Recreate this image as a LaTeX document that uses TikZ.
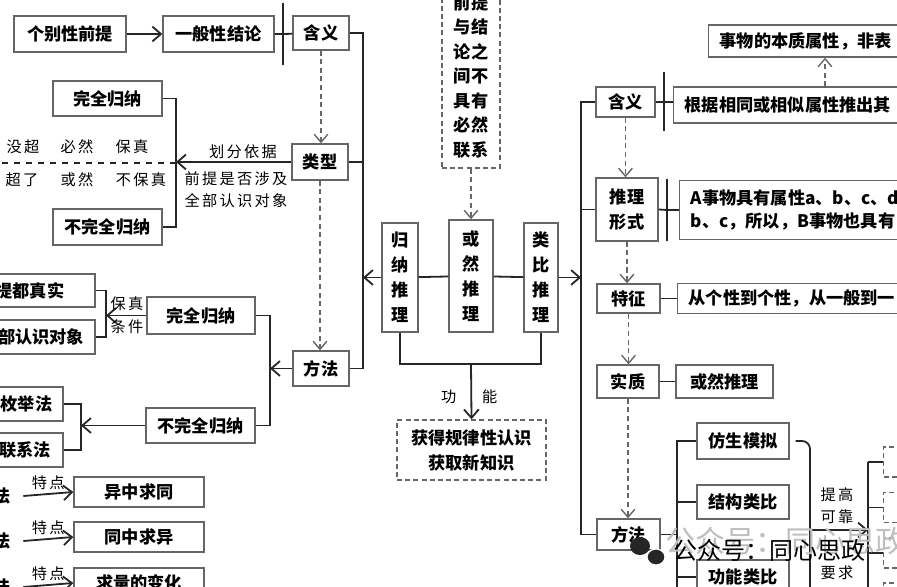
\documentclass[tikz,border=0pt]{standalone}
\usepackage{fontspec}
\setmainfont{Noto Sans CJK SC}
\newfontfamily\markfont{Noto Sans CJK SC}[LetterSpace=15]
\usetikzlibrary{arrows.meta,positioning,calc}
\tikzset{
  link/.style={line width=0.9pt, draw=black!85},
  flowarrow/.style={link, -{Straight Barb[length=1.5mm,width=2.6mm]}},
  dasharrow/.style={line width=0.7pt, draw=black!60, dash pattern=on 2.5pt off 1.8pt,
    -{Straight Barb[length=1.4mm,width=2.4mm]}},
  box/.style={draw=black!60, line width=0.7pt, fill=white, inner sep=0pt, align=center,
    font=\bfseries\fontsize{8.6}{12.5}\selectfont},
  dbox/.style={box, dash pattern=on 2.5pt off 1.6pt},
  lbox/.style={box, anchor=west, align=left, inner xsep=5.5pt, text width=150pt},
  sz/.style 2 args={minimum width=#1*0.5pt, minimum height=#2*0.5pt},
  ht/.style={minimum height=#1*0.5pt},
  note/.style={font=\markfont\fontsize{7.6}{11}\selectfont, text=black, inner sep=0pt}
}
\begin{document}
\begin{tikzpicture}[x=0.5pt,y=-0.5pt]
\useasboundingbox (0,0) rectangle (897,587);
\fill[white] (0,0) rectangle (897,587);
\begin{scope}
\clip (0,0) rectangle (897,587);

% ---- left: inductive reasoning ----
\node[box, sz={112}{36}] (gbqt) at (70,34) {个别性前提};
\node[box, sz={111}{36}] (ybjl) at (218.5,34) {一般性结论};
\node[box, sz={56}{34}] (hyL) at (321,33) {含义};
\node[box, sz={56}{36}] (lxL) at (320,162) {类型};
\node[box, sz={56}{35}] (ffL) at (321,368.5) {方法};
\coordinate (barL) at (283,34);
\coordinate (spL) at (363,0);
\draw[link] (barL) ++(0,-31) -- ++(0,62);
\draw[flowarrow] (gbqt) -- (ybjl);
\draw[link] (ybjl) -- (barL) -- (hyL);
\draw[link] (hyL.east) -- (hyL.east -| spL) -- (ffL.east -| spL) -- (ffL.east);
\draw[link] (lxL.east) -- (lxL.east -| spL);
\draw[dasharrow] (hyL.south) -- (hyL.south |- lxL.north);
\draw[dasharrow] (lxL.south) -- (lxL.south |- ffL.north);

\node[box, sz={109}{35}] (wq1) at (107.5,98.5) {完全归纳};
\node[box, sz={109}{36}] (bwq1) at (107.5,227) {不完全归纳};
\coordinate (brA) at (176,163);
\coordinate (dl) at (0,163);
\draw[link] (wq1.east) -- (wq1.east -| brA) -- (bwq1.east -| brA) -- (bwq1.east);
\draw[flowarrow] (lxL.west) -- (lxL.west -| brA);
\draw[link, dashed] (brA) -- (dl);
\node[note] (hf) at (243,152) {划分依据};
\node[note, align=left] (qt) at (236,190) {前提是否涉及\\全部认识对象};
\node[note] (r1a) at (23,147) {没超};
\node[note] (r1b) at (77,147) {必然};
\node[note] (r1c) at (132,147) {保真};
\node[note] (r2a) at (22,180) {超了};
\node[note] (r2b) at (77,180) {或然};
\node[note] (r2c) at (141,180) {不保真};

\node[box, sz={108}{37}] (wq2) at (201,315.5) {完全归纳};
\node[box, sz={109}{35}] (bwq2) at (200.5,425.5) {不完全归纳};
\node[box, sz={130}{33}] (dzs) at (30,290.5) {提都真实};
\node[box, sz={108}{34}] (rsdx) at (41,337) {部认识对象};
\coordinate (brB) at (106,315);
\coordinate (brC) at (270,0);
\draw[link] (dzs.east) -- (dzs.east -| brB) -- (rsdx.east -| brB) -- (rsdx.east);
\draw[flowarrow] (wq2.west) -- (wq2.west -| brB);
\node[note] (bz1) at (127,304) {保真};
\node[note] (bz2) at (127,327) {条件};
\draw[link] (wq2.east) -- (wq2.east -| brC) -- (bwq2.east -| brC) -- (bwq2.east);
\draw[flowarrow] (ffL.west) -- (ffL.west -| brC);

\node[box, sz={73}{34}] (mjf) at (26.5,404) {枚举法};
\node[box, sz={76}{34}] (lxf) at (25,450) {联系法};
\coordinate (brD) at (81,0);
\draw[link] (mjf.east) -- (mjf.east -| brD) -- (lxf.east -| brD) -- (lxf.east);
\draw[flowarrow] (bwq2.west) -- (bwq2.west -| brD);

\foreach \n/\y/\t in {1/492/异中求同, 2/537/同中求异, 3/583/求量的变化} {
  \node[box, sz={130}{30}] (td\n) at (139,\y) {\t};
  \node[box, draw=none, fill=none] (fa\n) at (2,\y+4) {法};
  \draw[link, -{Straight Barb[length=1.5mm,width=2.6mm]}] ([xshift=6pt]fa\n.east) -- node[note, above=1.5pt] {特点} (td\n.west);
}

% ---- centre ----
\node[dbox, sz={58}{183}, font=\bfseries\fontsize{8.6}{12.25}\selectfont] (ztbj) at (471,76.5) {前提\\与结\\论之\\间不\\具有\\必然\\联系};
\node[box, sz={36}{109}] (gntl) at (400,277.5) {归\\纳\\推\\理};
\node[box, sz={44}{112}] (hrtl) at (471,276) {或\\然\\推\\理};
\node[box, sz={34}{109}] (lbtl) at (541,277.5) {类\\比\\推\\理};
\coordinate (spR) at (581,0);
\coordinate (bk) at (0,364);
\draw[dasharrow] (ztbj.south) -- (hrtl.north);
\draw[link] (gntl) -- (hrtl);
\draw[link] (hrtl) -- (lbtl);
\draw[flowarrow] (gntl.west) -- (gntl.west -| spL);
\draw[flowarrow] (lbtl.east) -- (lbtl.east -| spR);
\draw[link] (gntl.south) -- (gntl.south |- bk) -- (lbtl.south |- bk) -- (lbtl.south);
\node[dbox, sz={149}{60}] (gn) at (471.5,450) {获得规律性认识\\获取新知识};
\draw[flowarrow] (hrtl.south |- bk) -- node[note, pos=0.6, left=7pt] {功} node[note, pos=0.6, right=5pt] {能} (gn.north);

% ---- right: analogical reasoning ----
\node[box, sz={59}{30}] (hyR) at (625.5,102) {含义};
\coordinate (barR) at (664,102);
\draw[link] (barR) ++(0,-30) -- ++(0,59);
\node[lbox, ht=36] (gj) at (673,105) {根据相同或相似属性推出其};
\node[lbox, ht=32] (bzsx) at (708,41) {事物的本质属性，非表};
\coordinate (bzx) at (825,0);
\draw[link] (hyR.east) -- (barR) -- (barR -| gj.west);
\draw[dasharrow] (bzx |- gj.north) -- (bzx |- bzsx.south);

\node[box, sz={62}{63}] (tlxs) at (627,209.5) {推理\\形式};
\coordinate (barT) at (667,210);
\draw[link] (barT) ++(0,-31) -- ++(0,62);
\node[lbox, ht=59, font=\bfseries\fontsize{8.6}{11.5}\selectfont] (axw) at (679,210) {A事物具有属性a、b、c、d\\b、c，所以，B事物也具有};
\draw[link] (tlxs.east) -- (barT) -- (barT -| axw.west);

\node[box, sz={63}{29}] (tz) at (628.5,298.5) {特征};
\node[lbox, ht=30] (tzt) at (677,298.5) {从个性到个性，从一般到一};
\draw[link] (tz.east) -- (tzt.west);
\node[box, sz={62}{33}] (shz) at (628,381.5) {实质};
\node[box, sz={97}{33}] (hrtl2) at (724.5,381.5) {或然推理};
\draw[link] (shz) -- (hrtl2);
\node[box, sz={63}{31}] (ffR) at (628.5,534.5) {方法};

\draw[dasharrow] (hyR.south) -- (hyR.south |- tlxs.north);
\draw[dasharrow] (tlxs.south) -- (tlxs.south |- tz.north);
\draw[dasharrow] (tz.south) -- (tz.south |- shz.north);
\draw[dasharrow] (shz.south) -- (shz.south |- ffR.north);
\draw[link] (hyR.west) -- (hyR.west -| spR) -- (ffR.west -| spR) -- (ffR.west);
\draw[link] (tlxs.west) -- (tlxs.west -| spR);

\node[box, sz={92}{36}] (fsmn) at (743,441) {仿生模拟};
\node[box, sz={92}{34}] (jglb) at (743,502) {结构类比};
\node[box, sz={92}{34}] (gnlb) at (743,577) {功能类比};
\coordinate (brE) at (677,0);
\coordinate (bot) at (0,600);
\draw[link] (ffR.east) -- (ffR.east -| brE);
\draw[link] (fsmn.west) -- (fsmn.west -| brE) -- (brE |- bot);
\draw[link] (jglb.west) -- (jglb.west -| brE);
\draw[link] (gnlb.west) -- (gnlb.west -| brE);
\coordinate (brF) at (810,0);
\coordinate (brG) at (868,530);
\draw[link, rounded corners=4pt] ([xshift=3pt]fsmn.east) -- (fsmn.east -| brF) -- (brF |- bot);
\draw[flowarrow] (brF |- brG) -- (brG);
\node[note, align=center] (tg) at (837,506) {提高\\可靠};
\node[note] (yq) at (837,573) {要求};
\foreach \i/\y in {1/462, 2/507.5, 3/553, 4/598} {
  \node[dbox, anchor=west, sz={60}{30}] (kk\i) at (883,\y) {};
  \draw[link] (kk\i.west) -- (kk\i.west -| brG);
}
\draw[link] (kk1.west -| brG) -- (brG |- bot);

% watermark
\node[text=black!25, font=\fontsize{15}{15}\selectfont] (wm0) at (785,541) {公众号：同心思政};
\fill[black!85] (640,546) ellipse (10 and 9);
\fill[black!85, draw=white, line width=0.6pt] (656,557) ellipse (9 and 8);
\node[font=\fontsize{12}{12}\selectfont] (wm) at (769.5,550) {公众号：同心思政};
\end{scope}
\end{tikzpicture}
\end{document}
